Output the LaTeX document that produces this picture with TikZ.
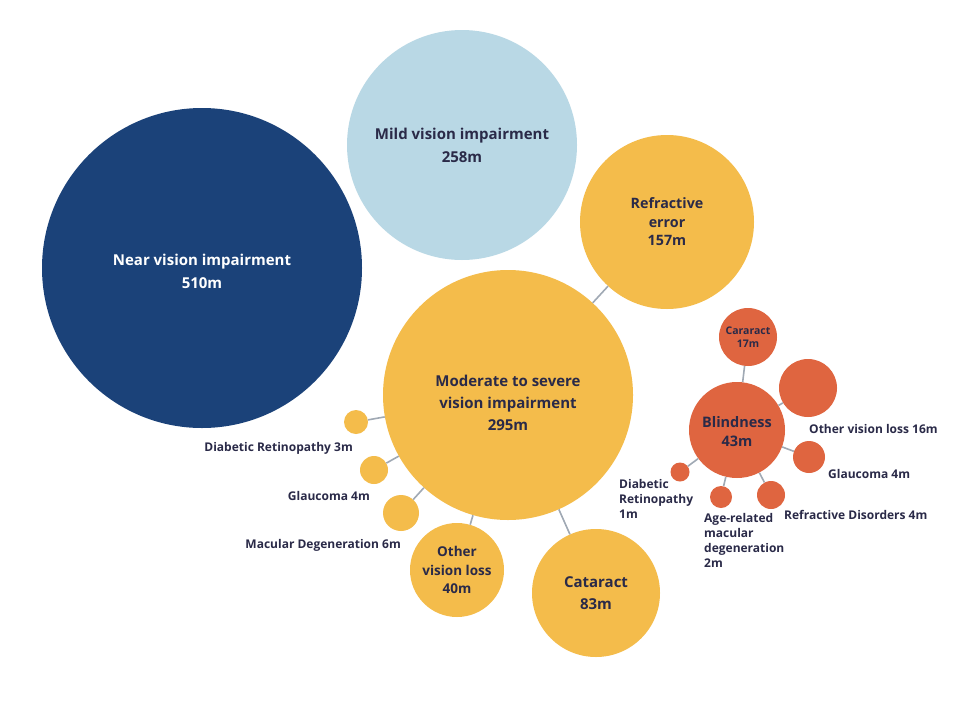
\documentclass[tikz,border=0pt]{standalone}
\usepackage{fontspec}
\setmainfont{Open Sans}
\definecolor{navy}{HTML}{1B4279}
\definecolor{lightblue}{HTML}{B9D8E5}
\definecolor{gold}{HTML}{F4BC4B}
\definecolor{rust}{HTML}{DF6540}
\definecolor{ink}{HTML}{2A2A48}
\definecolor{conncol}{HTML}{A0A9B4}
\tikzset{
  bub/.style={circle, inner sep=0pt, align=center, text=ink},
  conn/.style={draw=conncol, line width=1.6pt},
  big/.style={font=\fontsize{15}{23}\selectfont\bfseries},
  mid/.style={font=\fontsize{13.5}{18.5}\selectfont\bfseries},
  tiny/.style={font=\fontsize{10.5}{13}\selectfont\bfseries},
  lbl/.style={text=ink, font=\fontsize{12}{15}\selectfont\bfseries, inner sep=0pt},
}
\begin{document}
\begin{tikzpicture}[x=1pt,y=-1pt]
\useasboundingbox[fill=white] (0,0) rectangle (960,720);
% main bubbles
\node[bub, fill=navy, minimum size=320pt,
  label={[name=nearT, big, text=white, align=center, yshift=-3.5pt]center:{Near vision impairment\\510m}}] (near) at (202,268) {};
\node[bub, big, fill=lightblue, minimum size=230pt] (mild) at (462,145) {Mild vision impairment\\258m};
\node[bub, font=\fontsize{14.3}{18.5}\selectfont\bfseries, fill=gold, minimum size=174pt] (refr) at (667,222) {Refractive\\error\\157m};
\node[bub, fill=gold, minimum size=250pt,
  label={[name=modT, text=ink, align=center, yshift=-8pt, font=\fontsize{15}{22}\selectfont\bfseries]center:{Moderate to severe\\vision impairment\\295m}}] (mod) at (508,395) {};
\node[bub, font=\fontsize{15}{22}\selectfont\bfseries, fill=gold, minimum size=128pt] (cat) at (596,593) {Cataract\\83m};
\node[bub, mid, fill=gold, minimum size=94pt] (oth) at (457,570) {Other\\vision loss\\40m};
\node[bub, fill=gold, minimum size=24pt] (dr) at (356,422) {};
\node[bub, fill=gold, minimum size=28pt] (gl) at (374,470) {};
\node[bub, fill=gold, minimum size=36pt] (md) at (401,513) {};
% blindness cluster
\node[bub, fill=rust, minimum size=96pt,
  label={[name=blindT, text=ink, align=center, yshift=-2pt, font=\fontsize{14.5}{19}\selectfont\bfseries]center:{Blindness\\43m}}] (blind) at (737,430) {};
\node[bub, tiny, fill=rust, minimum size=58pt] (bcat) at (748,337) {Cararact\\17m};
\node[bub, fill=rust, minimum size=58pt] (bovl) at (808,388) {};
\node[bub, fill=rust, minimum size=32pt] (bgl) at (809,457) {};
\node[bub, fill=rust, minimum size=28pt] (brd) at (771,495) {};
\node[bub, fill=rust, minimum size=22pt] (bamd) at (721,497) {};
\node[bub, fill=rust, minimum size=19pt] (bdr) at (680,472) {};
% connectors
\draw[conn] (mod) -- (refr);
\draw[conn] (mod) -- (cat);
\draw[conn] (mod) -- (oth);
\draw[conn] (mod) -- (dr);
\draw[conn] (mod) -- (gl);
\draw[conn] (mod) -- (md);
\draw[conn] (blind) -- (bcat);
\draw[conn] (blind) -- (bovl);
\draw[conn] (blind) -- (bgl);
\draw[conn] (blind) -- (brd);
\draw[conn] (blind) -- (bamd);
\draw[conn] (blind) -- (bdr);
% outside labels
\node[lbl, anchor=east] (drL) at (353,448) {Diabetic Retinopathy 3m};
\node[lbl, anchor=east] (glL) at (370,496) {Glaucoma 4m};
\node[lbl, anchor=east] (mdL) at (401,545) {Macular Degeneration 6m};
\node[lbl, anchor=west] (bovlL) at (809,429) {Other vision loss 16m};
\node[lbl, anchor=west] (bglL) at (828,474) {Glaucoma 4m};
\node[lbl, anchor=west] (brdL) at (784,515) {Refractive Disorders 4m};
\node[lbl, anchor=north west, align=left] (bamdL) at (704,513) {Age-related\\macular\\degeneration\\2m};
\node[lbl, anchor=north west, align=left] (bdrL) at (619,479) {Diabetic\\Retinopathy\\1m};
\end{tikzpicture}
\end{document}
